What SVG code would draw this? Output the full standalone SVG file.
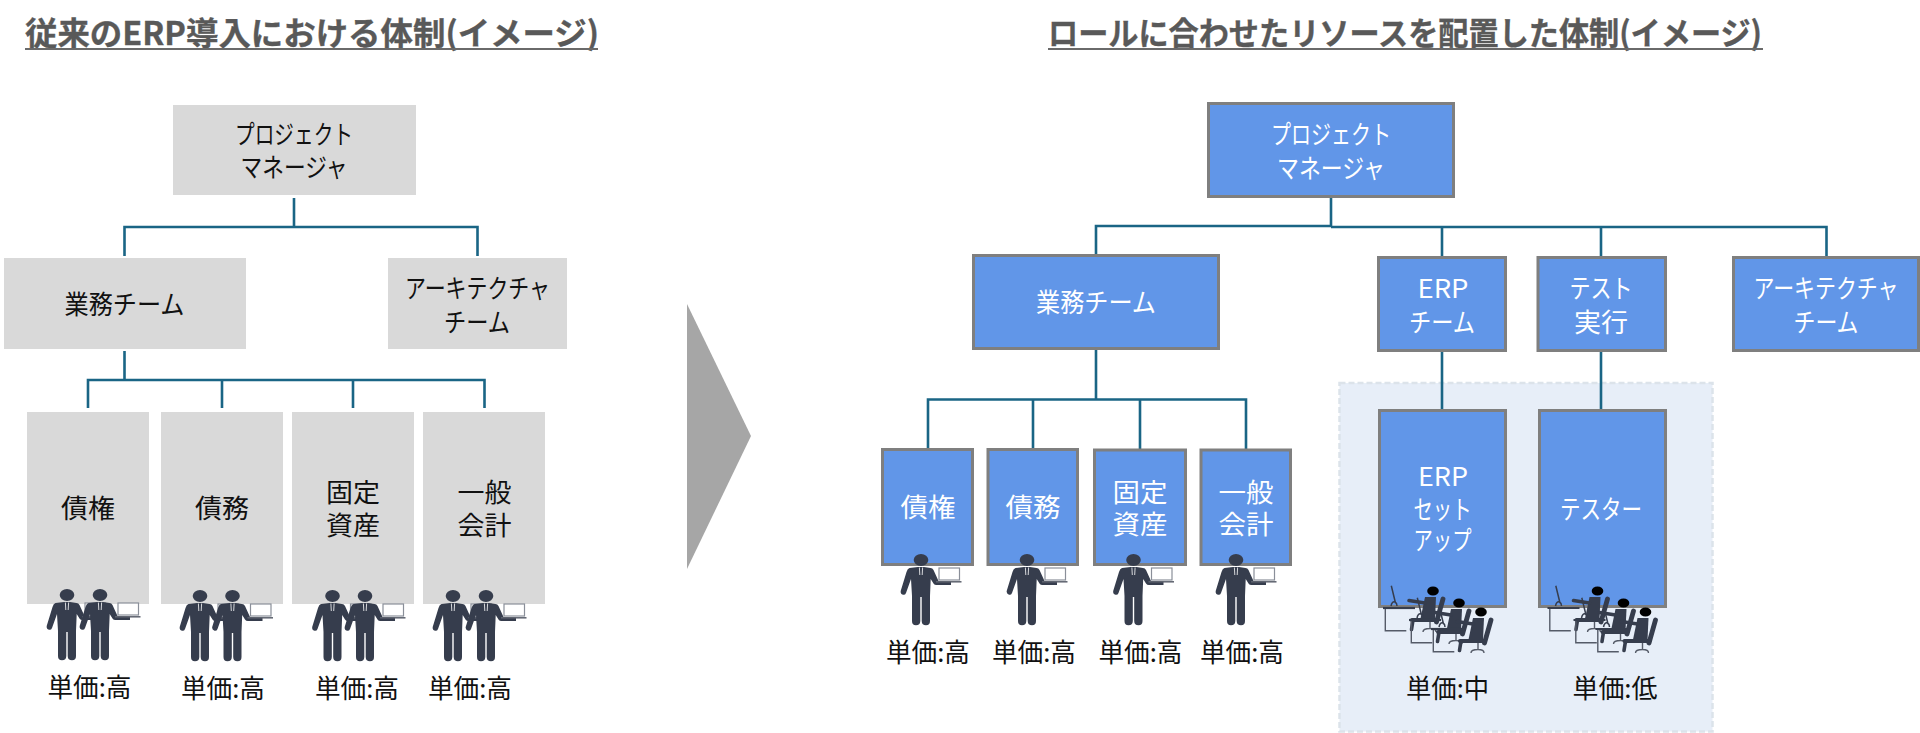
<svg xmlns="http://www.w3.org/2000/svg" xmlns:xlink="http://www.w3.org/1999/xlink" width="1920" height="733" viewBox="0 0 1920 733">
<style>
text{font-family:"Noto Sans CJK JP","Noto Sans",sans-serif;text-anchor:middle;font-size:26px;fill:#111}
.w text,text.w{fill:#fff}
.title{font-size:32px;font-weight:700;fill:#595959;stroke:#595959;stroke-width:.35;text-anchor:start}
.g{fill:#d9d9d9}
.b{fill:#6196e8;stroke:#7f7f7f;stroke-width:3}
.c{fill:none;stroke:#1a6585;stroke-width:2.6}
.ul{stroke:#6a6a6a;stroke-width:2}
.dk{fill:#363d4d}
.st{fill:none;stroke:#363d4d;stroke-linecap:round}
.ln{fill:none;stroke:#555b68;stroke-width:1.4}
</style>
<defs>
<g id="person">
<path class="dk" d="M-3 7L-11.500 8Q-13.500 8.500-14.500 12L-20.300 31Q-20.800 34-18 34.800Q-15.800 35.200-15 33L-10 19L-9 36L-9 61Q-9 65.300-5 65.300Q-.8 65.300-.7 61L-.7 37L.7 37L.7 61Q.8 65.300 5 65.300Q9 65.300 9 61L9 36L9.700 19L12.500 23.500Q13.500 25 15.500 25L30 25L30 21.500L17.500 21L12.500 10Q11.500 8 9.500 8L3 7Z"/>
<path d="M-1.600 7.500L-1.200 15M1.600 7.500L1.200 15" stroke="#fff" stroke-width=".8" fill="none"/>
<ellipse class="dk" cx="0" cy="0" rx="7.300" ry="6"/>
<rect x="18" y="8" width="20.500" height="12" fill="#fff" stroke="#8a8f99" stroke-width="1.200"/>
<path d="M15 21.800H40.500" stroke="#5d626e" stroke-width="1.500"/>
</g>
<g id="worker">
<path class="ln" d="M-47.700 17V39.700H-26.700"/>
<path d="M-50 17H-18" stroke="#363d4d" stroke-width="2.200"/>
<path d="M-41.700-5.300L-37.500 12M-42 15Q-41 10-38 11Q-36 12-36 15" fill="none" stroke="#363d4d" stroke-width="1.500"/>
<path class="dk" d="M-8 6L3 6L2 28L-13 30Z"/>
<path class="st" stroke-width="3.600" d="M-24 9.500L-8 12"/>
<path class="st" stroke-width="4" d="M-21 29H4"/>
<path class="st" stroke-width="3.600" d="M-20 29L-21.500 38.500"/>
<path class="st" stroke-width="4.800" d="M10 8L3.500 31"/>
<path class="ln" stroke-width="1.600" d="M-3 31V37M-10 41Q-10 37.500-3 37.500Q3 37.500 3 41"/>
<ellipse cx="0" cy="0" rx="5.800" ry="4.600" fill="#000"/>
</g>
<g id="team">
<use href="#worker" x="1433" y="591"/>
<use href="#worker" x="1459" y="603"/>
<use href="#worker" x="1481" y="612"/>
</g>
</defs>

<rect width="1920" height="733" fill="#fff"/>

<rect id="panel" x="1339.500" y="383" width="373" height="348.500" fill="#e7eef8" stroke="#dce3ea" stroke-width="2.500" stroke-dasharray="6 3"/>

<g id="titles">
<text class="title" x="25" y="45" textLength="574" lengthAdjust="spacingAndGlyphs">従来のERP導入における体制(イメージ)</text>
<line class="ul" x1="25" y1="49" x2="598" y2="49"/>
<text class="title" x="1048" y="45" textLength="714" lengthAdjust="spacingAndGlyphs">ロールに合わせたリソースを配置した体制(イメージ)</text>
<line class="ul" x1="1048" y1="49" x2="1763" y2="49"/>
</g>

<g id="connectors">
<path class="c" d="M294 198V227M124.500 256V227H477.500V256"/>
<path class="c" d="M124.500 351V380M88 408V380H484.500V408M222 380V408M353 380V408"/>
<path class="c" d="M1331 198V226.500M1096 254V226H1331M1331 227H1826.500V256M1442 227V256M1601 227V256"/>
<path class="c" d="M1096 350V399.500M928 449V399.500H1246V449M1033 399.500V449M1140 399.500V449"/>
<path class="c" d="M1442 352V410M1601 352V410"/>
</g>

<polygon id="arrow" points="687,304 687,569 751,436" fill="#a6a6a6"/>

<g id="left-pm"><rect class="g" x="173" y="105" width="243" height="90"/>
<text x="294" y="144" textLength="118" lengthAdjust="spacingAndGlyphs">プロジェクト</text><text x="294" y="177" textLength="107" lengthAdjust="spacingAndGlyphs">マネージャ</text></g>
<g id="left-biz"><rect class="g" x="4" y="258" width="242" height="91"/>
<text x="124.500" y="314" textLength="120" lengthAdjust="spacingAndGlyphs">業務チーム</text></g>
<g id="left-arch"><rect class="g" x="388" y="258" width="179" height="91"/>
<text x="477.500" y="298" textLength="145" lengthAdjust="spacingAndGlyphs">アーキテクチャ</text><text x="477" y="332" textLength="66" lengthAdjust="spacingAndGlyphs">チーム</text></g>

<g id="left-a"><rect class="g" x="27" y="412" width="122" height="192"/>
<text x="88" y="518" textLength="54" lengthAdjust="spacingAndGlyphs">債権</text>
<use href="#person" x="67" y="595"/><use href="#person" x="100" y="595"/>
<text x="89.500" y="697" textLength="84" lengthAdjust="spacingAndGlyphs">単価:高</text></g>
<g id="left-b"><rect class="g" x="161" y="412" width="122" height="192"/>
<text x="222" y="518" textLength="54" lengthAdjust="spacingAndGlyphs">債務</text>
<use href="#person" x="200" y="596"/><use href="#person" x="232.500" y="596"/>
<text x="223" y="698" textLength="84" lengthAdjust="spacingAndGlyphs">単価:高</text></g>
<g id="left-c"><rect class="g" x="292" y="412" width="122" height="192"/>
<text x="353" y="502" textLength="54" lengthAdjust="spacingAndGlyphs">固定</text><text x="353" y="535" textLength="54" lengthAdjust="spacingAndGlyphs">資産</text>
<use href="#person" x="332.500" y="596"/><use href="#person" x="365" y="596"/>
<text x="357" y="698" textLength="84" lengthAdjust="spacingAndGlyphs">単価:高</text></g>
<g id="left-d"><rect class="g" x="423" y="412" width="122" height="192"/>
<text x="484.500" y="502" textLength="54" lengthAdjust="spacingAndGlyphs">一般</text><text x="484.500" y="535" textLength="54" lengthAdjust="spacingAndGlyphs">会計</text>
<use href="#person" x="453" y="596"/><use href="#person" x="486" y="596"/>
<text x="470" y="698" textLength="84" lengthAdjust="spacingAndGlyphs">単価:高</text></g>

<g class="w">
<g id="right-pm"><rect class="b" x="1208.500" y="103.500" width="245" height="93"/>
<text x="1331" y="144" textLength="120" lengthAdjust="spacingAndGlyphs">プロジェクト</text><text x="1331" y="178" textLength="108" lengthAdjust="spacingAndGlyphs">マネージャ</text></g>
<g id="right-biz"><rect class="b" x="973.500" y="255.500" width="245" height="93"/>
<text x="1096" y="312" textLength="120" lengthAdjust="spacingAndGlyphs">業務チーム</text></g>
<g id="right-erp"><rect class="b" x="1378.500" y="257.500" width="127" height="93"/>
<text x="1443" y="298" textLength="51" lengthAdjust="spacingAndGlyphs">ERP</text><text x="1442" y="332" textLength="66" lengthAdjust="spacingAndGlyphs">チーム</text></g>
<g id="right-test"><rect class="b" x="1538" y="257.500" width="127.500" height="93"/>
<text x="1601" y="298" textLength="63" lengthAdjust="spacingAndGlyphs">テスト</text><text x="1601" y="332" textLength="54" lengthAdjust="spacingAndGlyphs">実行</text></g>
<g id="right-arch"><rect class="b" x="1733.500" y="257.500" width="185" height="93"/>
<text x="1826" y="298" textLength="145" lengthAdjust="spacingAndGlyphs">アーキテクチャ</text><text x="1826" y="332" textLength="65" lengthAdjust="spacingAndGlyphs">チーム</text></g>

<g id="right-a"><rect class="b" x="882.500" y="449.500" width="90" height="115"/>
<text x="928" y="517" textLength="55" lengthAdjust="spacingAndGlyphs">債権</text></g>
<g id="right-b"><rect class="b" x="988" y="449.500" width="89.500" height="115"/>
<text x="1033" y="517" textLength="55" lengthAdjust="spacingAndGlyphs">債務</text></g>
<g id="right-c"><rect class="b" x="1094.500" y="450" width="91" height="114.500"/>
<text x="1140" y="502" textLength="55" lengthAdjust="spacingAndGlyphs">固定</text><text x="1140" y="534" textLength="55" lengthAdjust="spacingAndGlyphs">資産</text></g>
<g id="right-d"><rect class="b" x="1201" y="450" width="89.500" height="114.500"/>
<text x="1246" y="502" textLength="55" lengthAdjust="spacingAndGlyphs">一般</text><text x="1246" y="534" textLength="55" lengthAdjust="spacingAndGlyphs">会計</text></g>
<g id="right-setup"><rect class="b" x="1379.500" y="410.500" width="126" height="196"/>
<text x="1443" y="486" textLength="50" lengthAdjust="spacingAndGlyphs">ERP</text><text x="1442.500" y="519" textLength="58" lengthAdjust="spacingAndGlyphs">セット</text><text x="1442.500" y="550" textLength="58" lengthAdjust="spacingAndGlyphs">アップ</text></g>
<g id="right-tester"><rect class="b" x="1539.500" y="410.500" width="126" height="196"/>
<text x="1601" y="519" textLength="82" lengthAdjust="spacingAndGlyphs">テスター</text></g>
</g>

<g id="people-right">
<use href="#person" x="921" y="560"/><use href="#person" x="1027" y="560"/><use href="#person" x="1133.500" y="560"/><use href="#person" x="1236" y="560"/>
</g>
<g id="labels-right">
<text x="928" y="662" textLength="84" lengthAdjust="spacingAndGlyphs">単価:高</text>
<text x="1034" y="662" textLength="84" lengthAdjust="spacingAndGlyphs">単価:高</text>
<text x="1140.500" y="662" textLength="84" lengthAdjust="spacingAndGlyphs">単価:高</text>
<text x="1242" y="662" textLength="84" lengthAdjust="spacingAndGlyphs">単価:高</text>
<text x="1447.500" y="698" textLength="83" lengthAdjust="spacingAndGlyphs">単価:中</text>
<text x="1615" y="698" textLength="85" lengthAdjust="spacingAndGlyphs">単価:低</text>
</g>
<g id="workers">
<use href="#team"/>
<use href="#team" x="164.500"/>
</g>
</svg>
